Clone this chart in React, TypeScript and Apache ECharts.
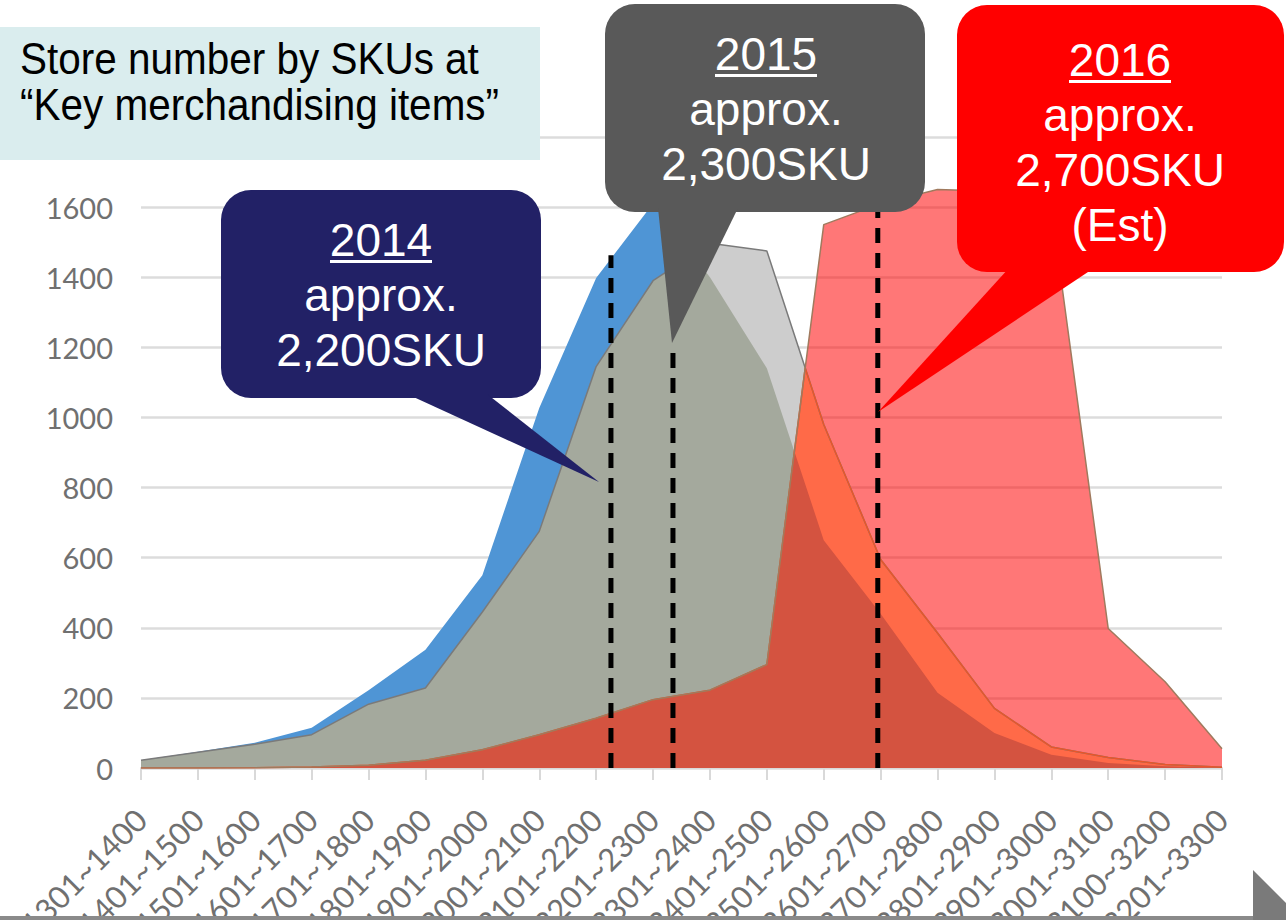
import React, { useEffect, useRef } from "react";
import * as echarts from "echarts";

// ---------- data ----------
const categories = [
  "1301~1400", "1401~1500", "1501~1600", "1601~1700", "1701~1800",
  "1801~1900", "1901~2000", "2001~2100", "2101~2200", "2201~2300",
  "2301~2400", "2401~2500", "2501~2600", "2601~2700", "2701~2800",
  "2801~2900", "2901~3000", "3001~3100", "3100~3200", "3201~3300",
];
const stores2014 = [22, 46, 72, 115, 222, 337, 550, 1027, 1398, 1610, 1400, 1140, 650, 440, 215, 100, 38, 14, 5, 1];
const stores2015 = [22, 45, 68, 95, 182, 228, 445, 675, 1145, 1390, 1497, 1475, 980, 595, 385, 170, 60, 30, 10, 2];
const stores2016 = [0, 0, 1, 3, 8, 22, 52, 95, 142, 195, 222, 295, 1550, 1610, 1650, 1645, 1600, 398, 246, 55];
// approximate average SKU markers (position on the category axis, top value)
const avgPositions = [8.26, 9.35, 12.95];
const avgTops = [1463, 1212, 1600];
const yMin = 0;
const yMax = 1800;
const yStep = 200;

type Pt = [number, number];
const toPts = (a: number[]): Pt[] => a.map((v, i) => [i, v] as Pt);

function valueAt(p: Pt[], x: number): number {
  for (let k = 0; k < p.length - 1; k++) {
    const [x0, y0] = p[k];
    const [x1, y1] = p[k + 1];
    if (x >= x0 && x <= x1) {
      if (x1 === x0) return Math.min(y0, y1);
      return y0 + ((y1 - y0) * (x - x0)) / (x1 - x0);
    }
  }
  return p[p.length - 1][1];
}

// geometric overlap (lower envelope) of two polylines, used to paint overlap colours
function overlap(P: Pt[], Q: Pt[]): Pt[] {
  const xs = Array.from(new Set([...P.map((p) => p[0]), ...Q.map((q) => q[0])])).sort((a, b) => a - b);
  const out: Pt[] = [];
  for (let k = 0; k < xs.length; k++) {
    const x0 = xs[k];
    const p0 = valueAt(P, x0);
    const q0 = valueAt(Q, x0);
    out.push([x0, Math.min(p0, q0)]);
    if (k < xs.length - 1) {
      const x1 = xs[k + 1];
      const p1 = valueAt(P, x1);
      const q1 = valueAt(Q, x1);
      const d0 = p0 - q0;
      const d1 = p1 - q1;
      if (d0 * d1 < 0) {
        const t = d0 / (d0 - d1);
        out.push([x0 + t * (x1 - x0), p0 + t * (p1 - p0)]);
      }
    }
  }
  return out;
}

const FONT_AX = "Lato, 'Noto Sans', sans-serif";
const FONT_TX = "'Liberation Sans', Arial, sans-serif";

function areaSeries(name: string, data: Pt[], fill: string, opacity = 1, line?: { color: string; width: number }) {
  return {
    type: "line",
    name,
    data,
    symbol: "none",
    showSymbol: false,
    silent: true,
    lineStyle: line ? { color: line.color, width: line.width } : { width: 0, opacity: 0 },
    areaStyle: { color: fill, opacity },
  };
}
function lineSeries(name: string, data: Pt[], color: string, width: number) {
  return {
    type: "line",
    name,
    data,
    symbol: "none",
    showSymbol: false,
    silent: true,
    lineStyle: { color, width },
  };
}

function callout(
  box: { x: number; y: number; w: number; h: number },
  pointer: number[][],
  fill: string,
  cx: number,
  lines: string[],
  lineY: number[],
  underlineY: number,
  underlineW: number
) {
  const els: any[] = [
    { type: "rect", z: 100, shape: { x: box.x, y: box.y, width: box.w, height: box.h, r: 30 }, style: { fill } },
    { type: "polygon", z: 100, shape: { points: pointer }, style: { fill } },
  ];
  lines.forEach((t, i) => {
    els.push({
      type: "text",
      z: 101,
      x: cx,
      y: lineY[i],
      style: {
        text: t,
        fill: "#ffffff",
        fontSize: 46,
        fontFamily: FONT_TX,
        textAlign: "center",
        textVerticalAlign: "middle",
        align: "center",
        verticalAlign: "middle",
      },
    });
  });
  els.push({
    type: "rect",
    z: 101,
    shape: { x: cx - underlineW / 2, y: underlineY, width: underlineW, height: 3 },
    style: { fill: "#ffffff" },
  });
  return els;
}

export default function App() {
  const ref = useRef<HTMLDivElement>(null);

  useEffect(() => {
    if (!ref.current) return;
    const chart = echarts.init(ref.current, undefined, { renderer: "svg" });

    const p14 = toPts(stores2014);
    const p15 = toPts(stores2015);
    const p16 = toPts(stores2016);
    const o1415 = overlap(p14, p15);
    const o1516 = overlap(p15, p16);
    const oAll = overlap(o1415, p16);

    const dashed = avgPositions.map((x, i) => ({
      type: "line",
      name: "avg" + i,
      data: [
        [x, 0],
        [x, avgTops[i]],
      ],
      symbol: "none",
      silent: true,
      z: 5,
      lineStyle: { color: "#000000", width: 5, type: [15, 10] },
    }));

    const graphics: any[] = [
      // title box
      { type: "rect", z: 100, shape: { x: 0, y: 27, width: 540, height: 133 }, style: { fill: "#DAEDEE" } },
      {
        type: "text",
        z: 101,
        x: 20,
        y: 59,
        scaleX: 0.92,
        style: {
          text: "Store number by SKUs at",
          fill: "#000000",
          fontSize: 44,
          fontFamily: FONT_TX,
          textAlign: "left",
          textVerticalAlign: "middle",
          align: "left",
          verticalAlign: "middle",
        },
      },
      {
        type: "text",
        z: 101,
        x: 20,
        y: 105,
        scaleX: 0.92,
        style: {
          text: "\u201CKey merchandising items\u201D",
          fill: "#000000",
          fontSize: 44,
          fontFamily: FONT_TX,
          textAlign: "left",
          textVerticalAlign: "middle",
          align: "left",
          verticalAlign: "middle",
        },
      },
      ...callout(
        { x: 221, y: 190, w: 320, h: 208 },
        [
          [407, 394],
          [487, 394],
          [599, 482],
        ],
        "#222166",
        381,
        ["2014", "approx.", "2,200SKU"],
        [240, 295, 350],
        260,
        102
      ),
      ...callout(
        { x: 605, y: 4, w: 320, h: 208 },
        [
          [658, 208],
          [738, 208],
          [672, 343],
        ],
        "#595959",
        766,
        ["2015", "approx.", "2,300SKU"],
        [54, 109, 164],
        74,
        102
      ),
      ...callout(
        { x: 957, y: 5, w: 327, h: 267 },
        [
          [1009, 268],
          [1094, 268],
          [878, 412],
        ],
        "#FF0000",
        1120,
        ["2016", "approx.", "2,700SKU", "(Est)"],
        [60, 115, 170, 225],
        80,
        102
      ),
      // bottom strip and corner
      { type: "rect", z: 100, shape: { x: 0, y: 916, width: 1286, height: 4 }, style: { fill: "#8A8A8A" } },
      {
        type: "polygon",
        z: 100,
        shape: {
          points: [
            [1253, 870],
            [1286, 903],
            [1286, 920],
            [1253, 920],
          ],
        },
        style: { fill: "#7A7A7A" },
      },
    ];

    chart.setOption({
      animation: false,
      backgroundColor: "#ffffff",
      grid: {
        left: 141,
        right: 64,
        top: 137,
        bottom: 152,
        containLabel: false,
        outerBoundsMode: "none",
      },
      xAxis: {
        type: "value",
        min: 0,
        max: categories.length - 1,
        interval: 1,
        splitLine: { show: false },
        axisLine: { show: true, onZero: false, lineStyle: { color: "#D9D9D9", width: 2 } },
        axisTick: { show: true, length: 12, lineStyle: { color: "#D9D9D9", width: 2 } },
        axisLabel: {
          rotate: 45,
          margin: 46,
          showMinLabel: true,
          showMaxLabel: true,
          fontFamily: FONT_AX,
          fontSize: 31,
          color: "#707070",
          formatter: (v: number) => categories[Math.round(v)] ?? "",
        },
      },
      yAxis: {
        type: "value",
        min: yMin,
        max: yMax,
        interval: yStep,
        axisLine: { show: false },
        axisTick: { show: false },
        splitLine: { show: true, lineStyle: { color: "#DCDCDC", width: 2.5 } },
        axisLabel: {
          margin: 28,
          fontFamily: FONT_AX,
          fontSize: 29,
          color: "#707070",
          formatter: (v: number) => String(v),
        },
      },
      series: [
        areaSeries("2014", p14, "#4F95D5"),
        areaSeries("2015", p15, "#CDCDCD"),
        areaSeries("2014 & 2015", o1415, "#A4A99D"),
        lineSeries("2015 outline", p15, "#7A7A7A", 1.5),
        areaSeries("2016", p16, "#FF0000", 0.535),
        areaSeries("2016 & 2015", o1516, "#FF6A48", 1, { color: "#E8562A", width: 1.5 }),
        areaSeries("2016 & 2015 & 2014", oAll, "#D45340"),
        lineSeries("2016 outline", p16, "#A07A5E", 1.5),
        ...dashed,
      ],
      graphic: { elements: graphics },
    });

    return () => chart.dispose();
  }, []);

  return (
    <div
      ref={ref}
      style={{ position: "fixed", left: 0, top: 0, width: 1286, height: 920, background: "#fff" }}
    />
  );
}
